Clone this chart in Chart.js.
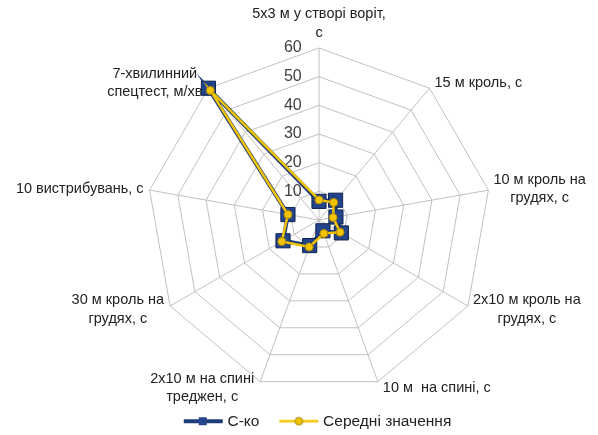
<!DOCTYPE html>
<html lang="uk">
<head>
    <meta charset="UTF-8">
    <title>Радар</title>
    <script src="https://cdn.jsdelivr.net/npm/chart.js"></script>
    <style>
        html, body { margin: 0; padding: 0; background: #fff; }
        #wrap { width: 598px; height: 435px; }
    </style>
</head>
<body>
    <div id="wrap"><canvas id="grafico"></canvas></div>
    <script>
        // Показники (за годинниковою стрілкою від верху)
        const pokaznyky = [
            ['5х3 м у створі воріт,', 'с'],
            ['15 м кроль, с'],
            ['10 м кроль на', 'грудях, с'],
            ['2х10 м кроль на', 'грудях, с'],
            ['10 м  на спині, с'],
            ['2х10 м на спині', 'треджен, с'],
            ['30 м кроль на', 'грудях, с'],
            ['10 вистрибувань, с'],
            ['7-хвилинний', 'спецтест, м/хв']
        ];
        const sko = [6.5, 9, 6, 9, 4, 9.5, 14.5, 11, 60];
        const seredni = [7, 8, 5, 8.5, 5, 10, 15, 11, 59];

        const navy = '#1f3c7a';
        const zhovtyi = '#f2c400';
        const shryft = '"Liberation Sans", Arial, sans-serif';

        // маленькі картинки для легенди: лінія + маркер
        function znachok(kolir, tovshchyna, marker) {
            const c = document.createElement('canvas');
            c.width = 43; c.height = 14;
            const g = c.getContext('2d');
            g.strokeStyle = kolir;
            g.lineWidth = tovshchyna;
            g.beginPath(); g.moveTo(2, 7); g.lineTo(41, 7); g.stroke();
            if (marker === 'rect') {
                g.fillStyle = '#23438a';
                g.fillRect(17, 3, 8, 8);
            } else {
                g.fillStyle = zhovtyi;
                g.strokeStyle = '#a88400';
                g.lineWidth = 1;
                g.beginPath(); g.arc(21.5, 7, 3.8, 0, Math.PI * 2); g.fill(); g.stroke();
            }
            return c;
        }

        // підписи осей як в Excel: біля вершини, по центру вертикально
        const pidpysy = {
            id: 'pidpysy',
            beforeDatasetsDraw(chart) {
                const s = chart.scales.r;
                const g = chart.ctx;
                g.save();
                g.font = '14.5px ' + shryft;
                g.fillStyle = '#222';
                g.textAlign = 'center';
                g.textBaseline = 'middle';
                const lh = 18.5;
                pokaznyky.forEach((rows, i) => {
                    const a = s.getIndexAngle(i);
                    const p = s.getPointPosition(i, s.drawingArea);
                    const sin = Math.sin(a), cos = Math.cos(a);
                    const w = Math.max(...rows.map(t => g.measureText(t).width));
                    const h = rows.length * lh;
                    let cx, cy;
                    if (Math.abs(sin) < 0.01) {
                        cx = p.x;
                        cy = cos > 0 ? p.y - 6 - h / 2 : p.y + 6 + h / 2;
                    } else {
                        cx = sin > 0 ? p.x + 5 + w / 2 : p.x - 6 - w / 2;
                        cy = p.y - 7 * cos;
                    }
                    rows.forEach((t, k) => {
                        g.fillText(t, cx, cy - h / 2 + lh / 2 + k * lh);
                    });
                });
                g.restore();
            }
        };

        const ctx = document.getElementById('grafico').getContext('2d');
        new Chart(ctx, {
            type: 'radar',
            data: {
                labels: pokaznyky,
                datasets: [{
                    label: 'С-ко   ',
                    data: sko,
                    borderColor: navy,
                    borderWidth: 4,
                    backgroundColor: 'rgba(0,0,0,0)',
                    pointStyle: 'rect',
                    pointRadius: 10,
                    pointBackgroundColor: '#23438a',
                    pointBorderColor: '#0f2350',
                    pointBorderWidth: 1,
                    fill: false,
                    order: 2
                }, {
                    label: 'Середні значення',
                    data: seredni,
                    borderColor: zhovtyi,
                    borderWidth: 2.5,
                    backgroundColor: 'rgba(0,0,0,0)',
                    pointStyle: 'circle',
                    pointRadius: 4,
                    pointBackgroundColor: zhovtyi,
                    pointBorderColor: '#a88400',
                    pointBorderWidth: 1,
                    fill: false,
                    order: 1
                }]
            },
            plugins: [pidpysy],
            options: {
                responsive: true,
                maintainAspectRatio: false,
                animation: false,
                layout: { padding: { top: 38, left: 40, right: 0, bottom: -4 } },
                plugins: {
                    tooltip: { enabled: false },
                    legend: {
                        position: 'bottom',
                        labels: {
                            usePointStyle: true,
                            pointStyleWidth: 33,
                            padding: 10,
                            color: '#222',
                            font: { family: shryft, size: 15.5 },
                            generateLabels: (chart) => chart.data.datasets.map((ds, i) => ({
                                text: ds.label,
                                datasetIndex: i,
                                fontColor: '#222',
                                pointStyle: i === 0 ? znachok(navy, 4, 'rect') : znachok(zhovtyi, 2.5, 'circle'),
                                lineWidth: 0,
                                strokeStyle: 'rgba(0,0,0,0)',
                                fillStyle: 'rgba(0,0,0,0)'
                            }))
                        }
                    }
                },
                scales: {
                    r: {
                        min: 0,
                        max: 60,
                        beginAtZero: true,
                        ticks: {
                            stepSize: 10,
                            showLabelBackdrop: false,
                            color: '#404040',
                            font: { family: shryft, size: 16 },
                            callback: (v) => v + '\u2003\u2003\u2003 '
                        },
                        grid: { color: '#c0c0c0', lineWidth: 1 },
                        angleLines: { color: '#c0c0c0', lineWidth: 1 },
                        pointLabels: { display: false }
                    }
                }
            }
        });
    </script>
</body>
</html>
